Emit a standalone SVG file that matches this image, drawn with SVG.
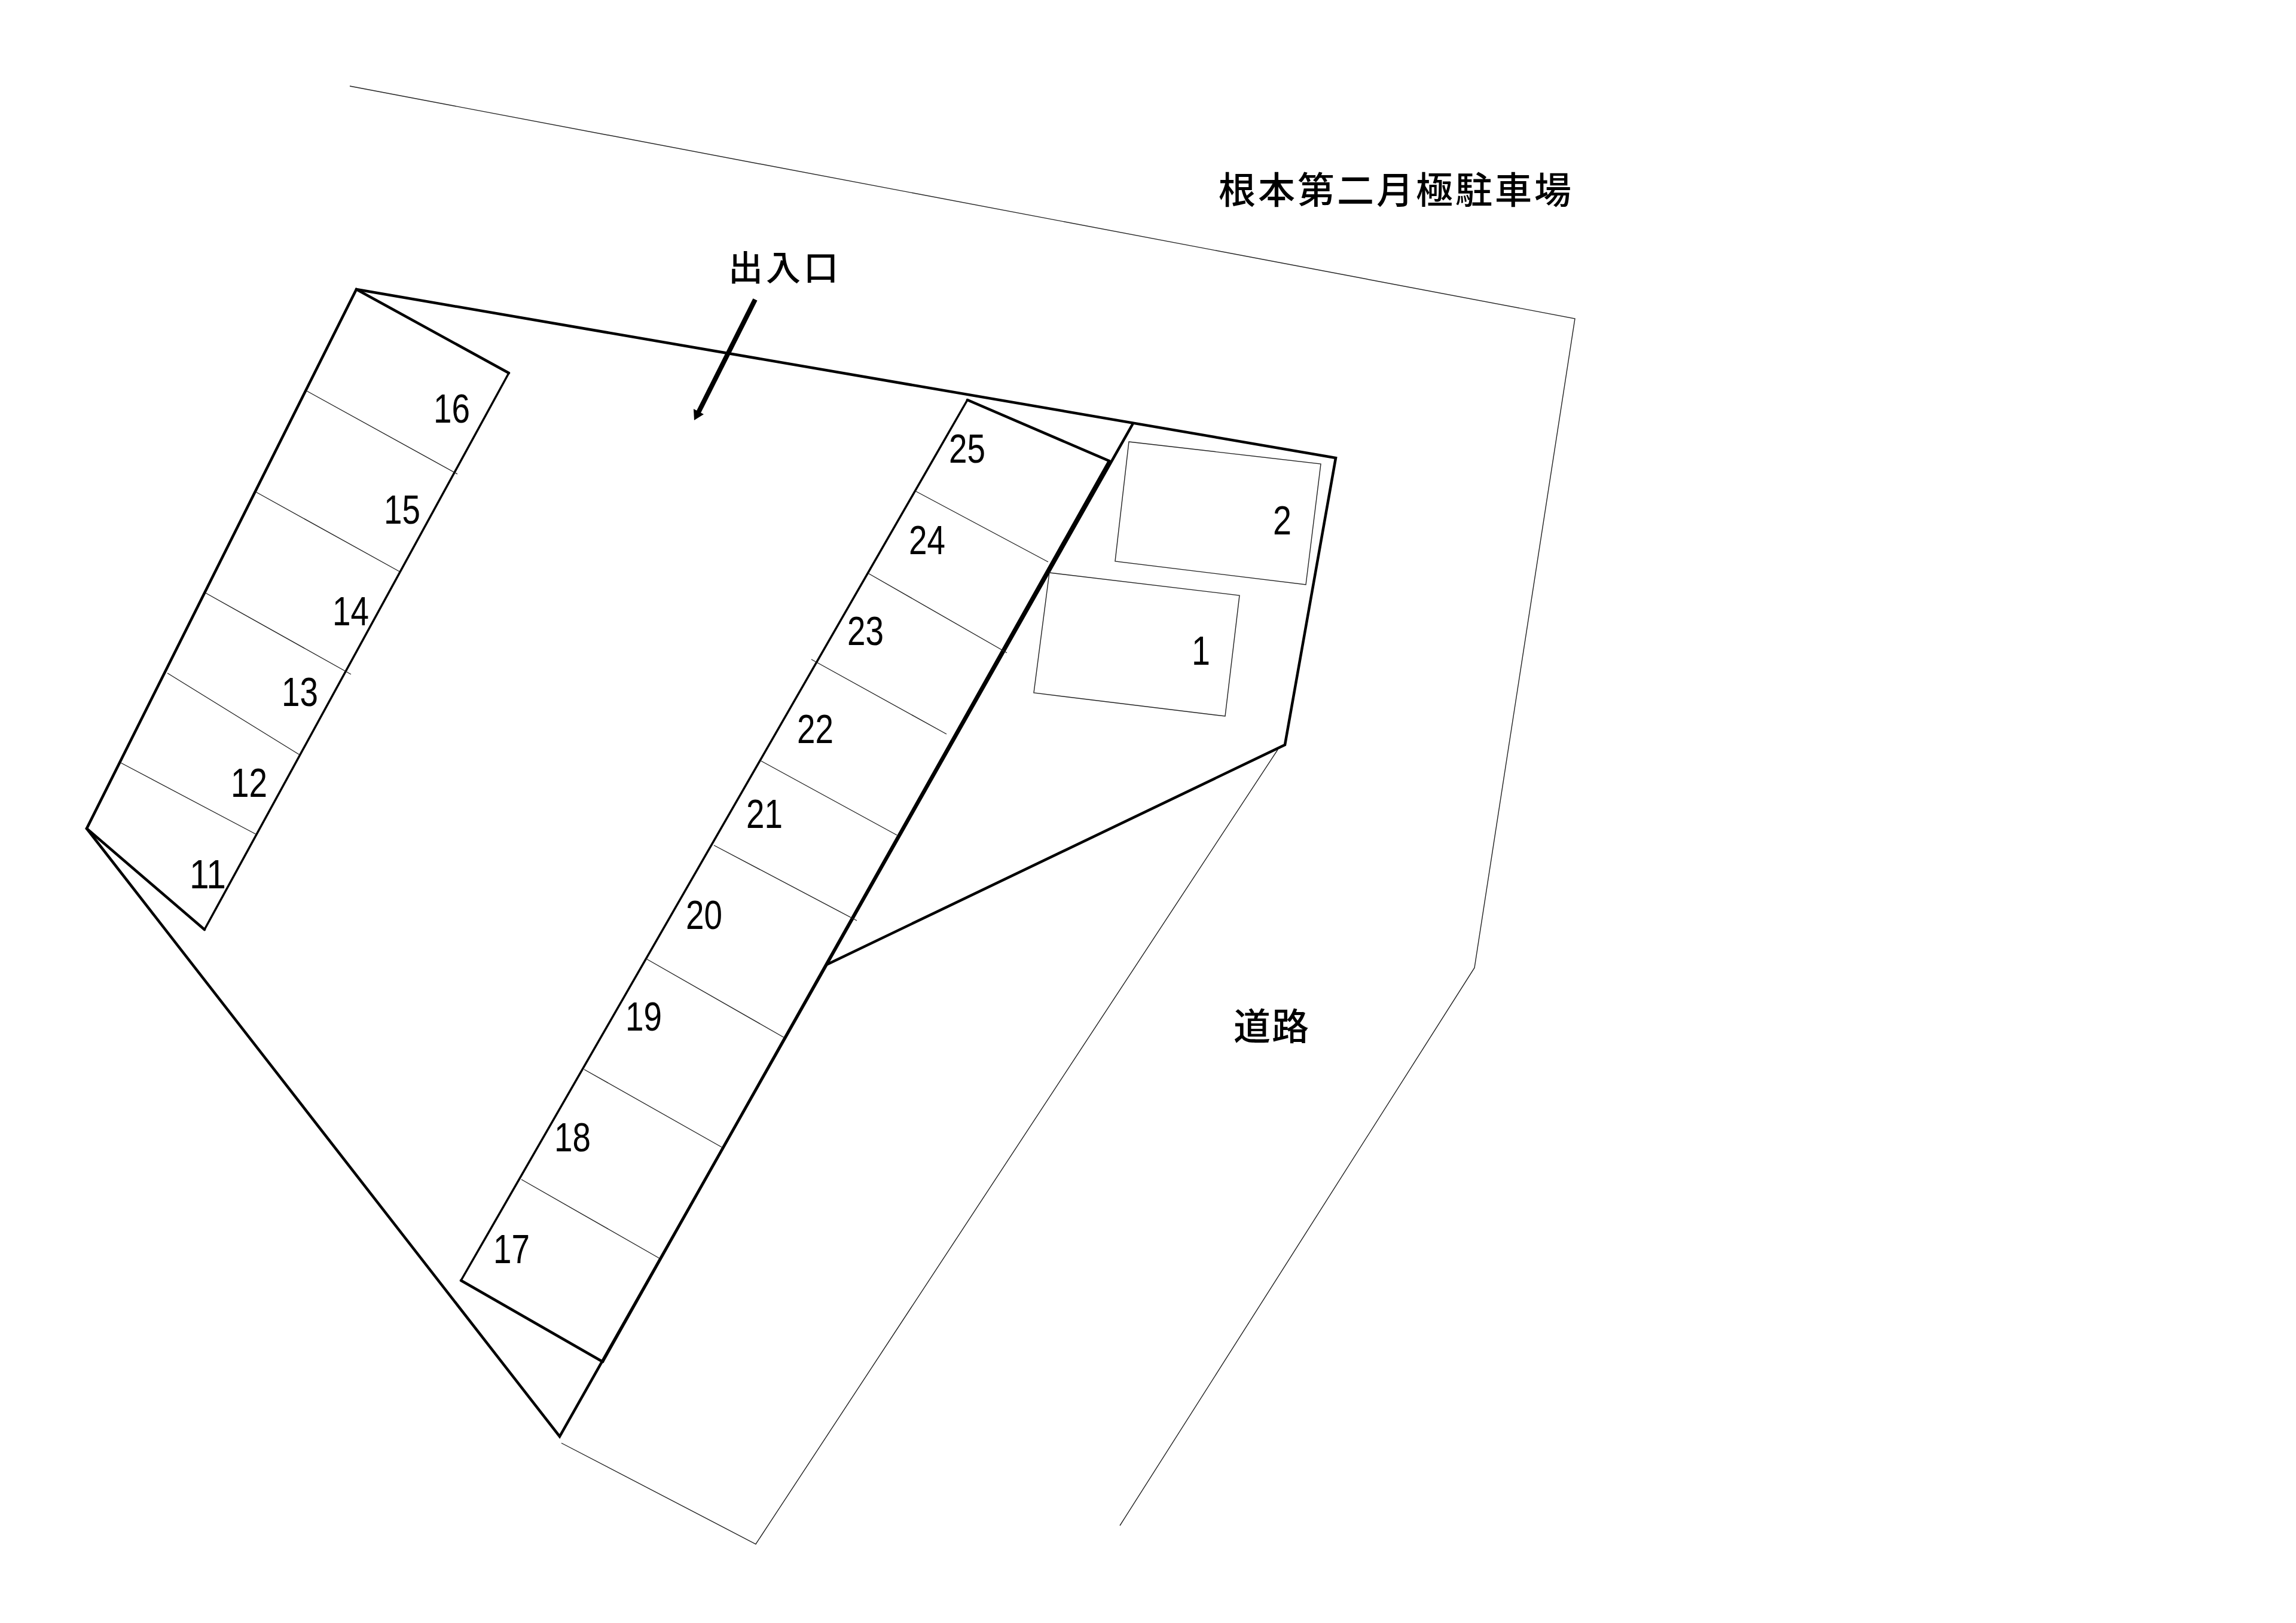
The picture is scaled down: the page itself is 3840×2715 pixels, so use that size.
<svg xmlns="http://www.w3.org/2000/svg" width="3840" height="2715" viewBox="0 0 3840 2715">
<style>
.bg{fill:#fff}
.k{fill:none;stroke:#000;stroke-width:4.5;stroke-linejoin:miter;stroke-linecap:round}
.m{fill:none;stroke:#000;stroke-width:3.5;stroke-linecap:round}
.t{fill:none;stroke:#222;stroke-width:1.4}
text{fill:#000;font-family:"Noto Sans CJK JP","Liberation Sans",sans-serif}
.n{font-size:68px;font-family:"Liberation Sans","Noto Sans CJK JP",sans-serif}
.j{font-size:62px;letter-spacing:4px;font-weight:500}
</style>
<rect class="bg" width="3840" height="2715"/>
<g id="surroundings">
<path class="t" d="M585 144L2634 533L2466 1619L1873 2552"/>
<path class="t" d="M939 2414L1264 2583L2137 1254"/>
</g>
<g id="site-boundary">
<path class="k" d="M596 484L2234 766L2149 1246L1384 1613"/>
<path class="k" d="M1894 710L936 2403L145 1386"/>
</g>
<g id="row-11-16">
<path class="k" d="M851 624L596 484L145 1386L342 1555"/>
<path class="m" d="M851 624L342 1555"/>
<path class="t" d="M513 654L765 793M428 823L668 956M344 992L587 1128M280 1126L500 1262M202 1276L429 1396"/>
</g>
<g id="row-17-25">
<path class="k" d="M1855 771L1618 669M771 2142L1008 2278"/>
<path class="m" d="M1618 669L771 2142"/>
<path class="k" d="M1855 771L1008 2278"/>
<path class="t" d="M1532 822L1753 940M1452 959L1684 1092M1357 1103L1583 1228M1273 1273L1500 1397M1194 1414L1433 1540M1081 1604L1312 1736M977 1789L1207 1919M872 1973L1103 2105"/>
</g>
<g id="buildings">
<path class="t" d="M1888 739L2209 776L2184 978L1865 939Z"/>
<path class="t" d="M1755 958L2073 996L2049 1198L1729 1159Z"/>
</g>
<g id="entrance-arrow">
<path d="M1263 501L1168 690" fill="none" stroke="#000" stroke-width="8"/>
<path d="M1161 703L1160 684L1177 693Z" fill="#000"/>
</g>
<g id="labels">
<text class="n" x="725" y="707" textLength="61" lengthAdjust="spacingAndGlyphs">16</text>
<text class="n" x="642" y="876" textLength="61" lengthAdjust="spacingAndGlyphs">15</text>
<text class="n" x="556" y="1046" textLength="61" lengthAdjust="spacingAndGlyphs">14</text>
<text class="n" x="471" y="1181" textLength="61" lengthAdjust="spacingAndGlyphs">13</text>
<text class="n" x="386" y="1333" textLength="61" lengthAdjust="spacingAndGlyphs">12</text>
<text class="n" x="317" y="1486" textLength="61" lengthAdjust="spacingAndGlyphs">11</text>
<text class="n" x="825" y="2113" textLength="61" lengthAdjust="spacingAndGlyphs">17</text>
<text class="n" x="927" y="1926" textLength="61" lengthAdjust="spacingAndGlyphs">18</text>
<text class="n" x="1046" y="1724" textLength="61" lengthAdjust="spacingAndGlyphs">19</text>
<text class="n" x="1147" y="1554" textLength="61" lengthAdjust="spacingAndGlyphs">20</text>
<text class="n" x="1248" y="1385" textLength="61" lengthAdjust="spacingAndGlyphs">21</text>
<text class="n" x="1333" y="1243" textLength="61" lengthAdjust="spacingAndGlyphs">22</text>
<text class="n" x="1417" y="1079" textLength="61" lengthAdjust="spacingAndGlyphs">23</text>
<text class="n" x="1520" y="927" textLength="61" lengthAdjust="spacingAndGlyphs">24</text>
<text class="n" x="1587" y="774" textLength="61" lengthAdjust="spacingAndGlyphs">25</text>
<text class="n" x="2129" y="894" textLength="31" lengthAdjust="spacingAndGlyphs">2</text>
<text class="n" x="1993" y="1112" textLength="31" lengthAdjust="spacingAndGlyphs">1</text>
<text class="j" x="2038" y="341">根本第二月極駐車場</text>
<text class="j" x="1218" y="469" style="font-size:58px;letter-spacing:5px">出入口</text>
<text class="j" x="2063" y="1740" style="letter-spacing:2px">道路</text>
</g>
</svg>
